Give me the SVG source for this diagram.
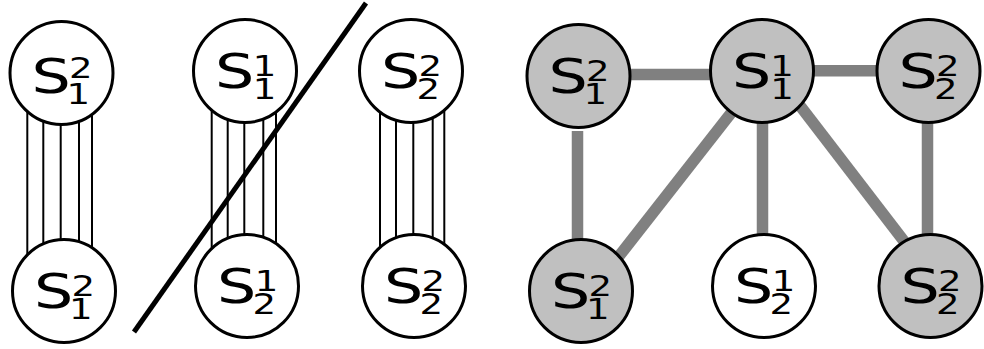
<svg xmlns="http://www.w3.org/2000/svg" width="984" height="349" viewBox="0 0 984 349">
  <style>
    .node circle { stroke: #000; stroke-width: 3; }
    .w { fill: #fff; }
    .g { fill: #c0c0c0; }
    .node text { font-family: "DejaVu Sans", "Liberation Sans", sans-serif; fill: #000; }
    .s { font-size: 47.6px; }
    .d { font-size: 28.5px; }
    .bundle line { stroke: #000; stroke-width: 2; }
    .edge line { stroke: #808080; stroke-width: 11.5; }
    .slash { stroke: #000; stroke-width: 5; }
  </style>

  <!-- connectors: parallel bundles on the left, weighted edges on the right -->
  <g id="connectors">
    <g class="bundle">
      <line x1="27.3" y1="73" x2="27.3" y2="291"/>
      <line x1="43.3" y1="73" x2="43.3" y2="291"/>
      <line x1="60.7" y1="73" x2="60.7" y2="291"/>
      <line x1="79" y1="73" x2="79" y2="291"/>
      <line x1="92" y1="73" x2="92" y2="291"/>
    </g>
    <g class="bundle">
      <line x1="211.7" y1="71" x2="211.7" y2="286"/>
      <line x1="227.7" y1="71" x2="227.7" y2="286"/>
      <line x1="244.3" y1="71" x2="244.3" y2="286"/>
      <line x1="263.3" y1="71" x2="263.3" y2="286"/>
      <line x1="276" y1="71" x2="276" y2="286"/>
    </g>
    <g class="bundle">
      <line x1="380" y1="71" x2="380" y2="286"/>
      <line x1="396" y1="71" x2="396" y2="286"/>
      <line x1="413.3" y1="71" x2="413.3" y2="286"/>
      <line x1="432.7" y1="71" x2="432.7" y2="286"/>
      <line x1="444.3" y1="71" x2="444.3" y2="286"/>
    </g>
    <g class="edge">
      <line x1="620" y1="74.5" x2="720" y2="74.5"/>
      <line x1="805" y1="70.8" x2="885" y2="70.8"/>
      <line x1="577.5" y1="131" x2="577.5" y2="250"/>
      <line x1="616" y1="260" x2="735" y2="108"/>
      <line x1="762.5" y1="110" x2="762.5" y2="245"/>
      <line x1="795.4" y1="99.7" x2="910.4" y2="249.6"/>
      <line x1="927.5" y1="110" x2="927.5" y2="245"/>
    </g>
  </g>

  <!-- left: node pairs (labels use a wide sans, stretched horizontally) -->
  <g id="a-top" class="node" transform="translate(61.5,73)">
    <circle r="51.5" class="w"/>
    <text transform="scale(1.3,1)"><tspan class="s" x="-23.15" y="19.5">S</tspan><tspan class="d" x="5.77" y="5">2</tspan><tspan class="d" x="3.85" y="31.5">1</tspan></text>
  </g>
  <g id="a-bottom" class="node" transform="translate(64,291)">
    <circle r="51.5" class="w"/>
    <text transform="scale(1.3,1)"><tspan class="s" x="-23.15" y="16.5">S</tspan><tspan class="d" x="5.77" y="4.5">2</tspan><tspan class="d" x="3.85" y="28.5">1</tspan></text>
  </g>
  <g id="b-top" class="node" transform="translate(245,71)">
    <circle r="51.5" class="w"/>
    <text transform="scale(1.3,1)"><tspan class="s" x="-23.15" y="16.5">S</tspan><tspan class="d" x="5.9" y="4.5">1</tspan><tspan class="d" x="5.9" y="28.5">1</tspan></text>
  </g>
  <g id="b-bottom" class="node" transform="translate(247,286)">
    <circle r="51.5" class="w"/>
    <text transform="scale(1.3,1)"><tspan class="s" x="-23.15" y="16.5">S</tspan><tspan class="d" x="5.9" y="4.5">1</tspan><tspan class="d" x="4.23" y="28.5">2</tspan></text>
  </g>
  <g id="c-top" class="node" transform="translate(411,71)">
    <circle r="51.5" class="w"/>
    <text transform="scale(1.3,1)"><tspan class="s" x="-23.15" y="16.5">S</tspan><tspan class="d" x="5.77" y="4.5">2</tspan><tspan class="d" x="4.23" y="28.5">2</tspan></text>
  </g>
  <g id="c-bottom" class="node" transform="translate(414,286)">
    <circle r="51.5" class="w"/>
    <text transform="scale(1.3,1)"><tspan class="s" x="-23.15" y="16.5">S</tspan><tspan class="d" x="5.77" y="4.5">2</tspan><tspan class="d" x="4.23" y="28.5">2</tspan></text>
  </g>

  <!-- strike-through across the middle pair -->
  <line class="slash" x1="134" y1="332" x2="366" y2="3"/>

  <!-- right: graph -->
  <g id="g-s12-top" class="node" transform="translate(578.5,76)">
    <circle r="51.5" class="g"/>
    <text transform="scale(1.3,1)"><tspan class="s" x="-23.15" y="16.5">S</tspan><tspan class="d" x="5.77" y="4.5">2</tspan><tspan class="d" x="3.85" y="28.5">1</tspan></text>
  </g>
  <g id="g-s11" class="node" transform="translate(762,71)">
    <circle r="51.5" class="g"/>
    <text transform="scale(1.3,1)"><tspan class="s" x="-23.15" y="16.5">S</tspan><tspan class="d" x="6.4" y="4.5">1</tspan><tspan class="d" x="6.4" y="28.5">1</tspan></text>
  </g>
  <g id="g-s22-top" class="node" transform="translate(928.5,71)">
    <circle r="51.5" class="g"/>
    <text transform="scale(1.3,1)"><tspan class="s" x="-23.15" y="16.5">S</tspan><tspan class="d" x="5.77" y="4.5">2</tspan><tspan class="d" x="4.23" y="28.5">2</tspan></text>
  </g>
  <g id="g-s12-bottom" class="node" transform="translate(581,291)">
    <circle r="51.5" class="g"/>
    <text transform="scale(1.3,1)"><tspan class="s" x="-23.15" y="16.5">S</tspan><tspan class="d" x="5.77" y="4.5">2</tspan><tspan class="d" x="3.85" y="28.5">1</tspan></text>
  </g>
  <g id="g-s21" class="node" transform="translate(764,286)">
    <circle r="51.5" class="w"/>
    <text transform="scale(1.3,1)"><tspan class="s" x="-23.15" y="16.5">S</tspan><tspan class="d" x="5.9" y="4.5">1</tspan><tspan class="d" x="4.23" y="28.5">2</tspan></text>
  </g>
  <g id="g-s22-bottom" class="node" transform="translate(930.5,286)">
    <circle r="51.5" class="g"/>
    <text transform="scale(1.3,1)"><tspan class="s" x="-23.15" y="16.5">S</tspan><tspan class="d" x="5.77" y="4.5">2</tspan><tspan class="d" x="4.23" y="28.5">2</tspan></text>
  </g>
</svg>
